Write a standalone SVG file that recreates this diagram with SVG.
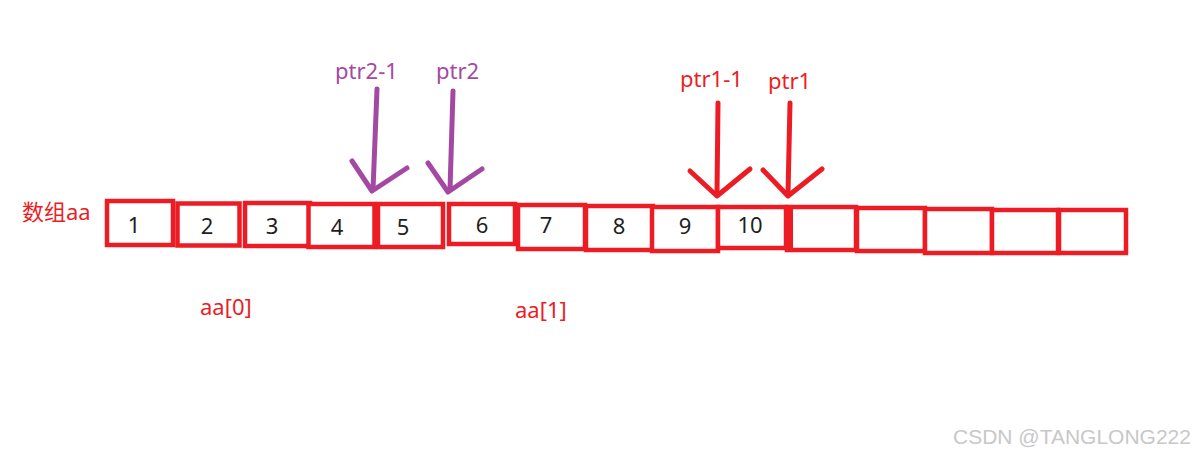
<svg xmlns="http://www.w3.org/2000/svg" width="1201" height="456" viewBox="0 0 1201 456">
<style>
.cell{fill:#fff;stroke:#ED1C24;stroke-width:4.5}
.num{font-family:"Noto Sans","Liberation Sans",sans-serif;font-size:22px;fill:#1e1e1e;text-anchor:middle}
.lbl{font-family:"Noto Sans","Noto Sans CJK SC",sans-serif;font-size:22px}
.red{fill:#ED1C24}
.pur{fill:#A349A4}
.ar{fill:none;stroke-width:5;stroke-linecap:round;stroke-linejoin:round}
.ar-r{stroke:#ED1C24}
.ar-p{stroke:#A349A4}
.wm{font-family:"Liberation Sans",Arial,sans-serif;font-size:21px;fill:#c8c8c8}
</style>
<rect width="1201" height="456" fill="#fff"/>
<g id="label-array"><text class="lbl red" x="22" y="220" font-size="23">数组aa</text></g>
<g id="cell-0"><rect class="cell" x="107" y="201" width="66" height="44"/><text class="num" x="134" y="233">1</text></g>
<g id="cell-1"><rect class="cell" x="177.5" y="203.5" width="62" height="42"/><text class="num" x="207" y="234">2</text></g>
<g id="cell-2"><rect class="cell" x="245" y="203" width="65" height="43"/><text class="num" x="272" y="234">3</text></g>
<g id="cell-3"><rect class="cell" x="308.5" y="204" width="66" height="43"/><text class="num" x="337" y="235">4</text></g>
<g id="cell-4"><rect class="cell" x="378" y="204" width="65" height="43"/><text class="num" x="403" y="235">5</text></g>
<g id="cell-5"><rect class="cell" x="449" y="204" width="66" height="40"/><text class="num" x="482" y="233">6</text></g>
<g id="cell-6"><rect class="cell" x="518" y="205" width="67" height="44"/><text class="num" x="546" y="233">7</text></g>
<g id="cell-7"><rect class="cell" x="586" y="206" width="67" height="44"/><text class="num" x="619" y="234">8</text></g>
<g id="cell-8"><rect class="cell" x="652" y="207" width="66" height="44"/><text class="num" x="685" y="234">9</text></g>
<g id="cell-9"><rect class="cell" x="718" y="207" width="68" height="41"/><text class="num" x="750" y="233">10</text></g>
<g id="cell-10"><rect class="cell" x="787" y="207" width="69" height="43"/><line x1="791" y1="206" x2="791" y2="251" stroke="#ED1C24" stroke-width="4"/></g>
<g id="cell-11"><rect class="cell" x="857" y="208" width="68" height="43"/></g>
<g id="cell-12"><rect class="cell" x="925" y="209" width="67" height="44"/></g>
<g id="cell-13"><rect class="cell" x="992" y="210" width="66" height="43"/></g>
<g id="cell-14"><rect class="cell" x="1059" y="210" width="67" height="43"/></g>
<g id="label-ptr2-1"><text class="lbl pur" x="335" y="79">ptr2-1</text></g>
<g id="label-ptr2"><text class="lbl pur" x="436" y="79">ptr2</text></g>
<g id="label-ptr1-1"><text class="lbl red" x="680" y="87">ptr1-1</text></g>
<g id="label-ptr1"><text class="lbl red" x="768" y="89">ptr1</text></g>
<g id="label-aa0"><text class="lbl red" x="200" y="315">aa[0]</text></g>
<g id="label-aa1"><text class="lbl red" x="515" y="318">aa[1]</text></g>
<g id="connectors">
<polyline class="ar ar-p" points="377,89 373,190"/>
<polyline class="ar ar-p" points="352,161 372,191 407,168"/>
<polyline class="ar ar-p" points="453,91 450,190"/>
<polyline class="ar ar-p" points="428,163 448,192 482,169"/>
<polyline class="ar ar-r" points="718,103 717,194"/>
<polyline class="ar ar-r" points="690,171 717,196 750,169"/>
<polyline class="ar ar-r" points="790,103 788,194"/>
<polyline class="ar ar-r" points="763,170 788,196 822,169"/>
</g>
<text class="wm" x="953" y="444">CSDN @TANGLONG222</text>
</svg>
